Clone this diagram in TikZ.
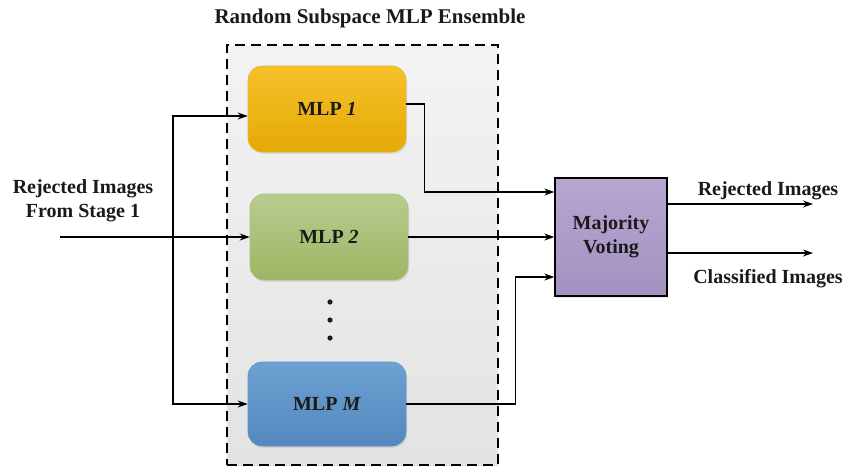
\documentclass[tikz,border=0pt]{standalone}
\usepackage{fontspec}
\setmainfont{Liberation Serif}
\usetikzlibrary{arrows.meta,shadows}
\definecolor{ylwT}{HTML}{F6C12A}
\definecolor{ylwB}{HTML}{E4AA05}
\definecolor{ylwD}{HTML}{E6B43A}
\definecolor{grnT}{HTML}{B8CC8E}
\definecolor{grnB}{HTML}{9DB665}
\definecolor{grnD}{HTML}{A9BF7C}
\definecolor{bluT}{HTML}{6DA1D2}
\definecolor{bluB}{HTML}{5487BD}
\definecolor{bluD}{HTML}{6394C6}
\definecolor{purT}{HTML}{B6A6D0}
\definecolor{purB}{HTML}{A491C2}
\definecolor{bgT}{HTML}{F3F3F3}
\definecolor{bgB}{HTML}{E3E3E3}
\definecolor{txt}{HTML}{1A1A1A}
\tikzset{
  lbl/.style={font=\fontsize{20}{23}\selectfont\bfseries, text=txt, align=center, inner sep=0pt},
  mlpbox/.style={rounded corners=14pt, minimum width=158pt, minimum height=86pt, line width=0.6pt,
     drop shadow={opacity=0.18, shadow xshift=1.2pt, shadow yshift=-1.8pt},
     font=\fontsize{20}{23}\selectfont\bfseries, text=txt},
  arr/.style={line width=1.3pt, -{Stealth[length=10pt,width=7pt]}},
  ln/.style={line width=1.3pt},
}
\begin{document}
\begin{tikzpicture}[x=1pt,y=-1pt]
\useasboundingbox (0,0) rectangle (858,467);
% ensemble frame
\node (ens) [draw=black, dashed, dash pattern=on 10pt off 6pt, line width=1.3pt,
  top color=bgT, bottom color=bgB, minimum width=271pt, minimum height=420pt, inner sep=0pt]
  at (362.5,255) {};
\node (title) [lbl, font=\fontsize{21}{24}\selectfont\bfseries] at (370,18) {Random Subspace MLP Ensemble};
% MLP boxes
\node (mlp1) [mlpbox, draw=ylwD, top color=ylwT, bottom color=ylwB] at (327,109) {MLP \textit{1}};
\node (mlp2) [mlpbox, draw=grnD, top color=grnT, bottom color=grnB] at (329,237) {MLP \textit{2}};
\node (mlpM) [mlpbox, draw=bluD, top color=bluT, bottom color=bluB, minimum height=84pt] at (327,404) {MLP \textit{M}};
% dots
\fill[txt] (330,302) circle (2.6pt) (330,320) circle (2.6pt) (330,338) circle (2.6pt);
% majority voting
\node (mv) [draw=black, line width=1.3pt, top color=purT, bottom color=purB,
  minimum width=112pt, minimum height=118pt, inner sep=0pt,
  drop shadow={opacity=0.15, shadow xshift=1.2pt, shadow yshift=-1.8pt},
  lbl] at (611,237) {Majority\\[1pt]Voting};
% left input
\node (inlbl) [lbl] at (83,201) {Rejected Images\\[1pt]From Stage 1};
\coordinate (in) at (60,237);
\coordinate (br) at (173,237);
\draw[ln] (in) -- (br);
\draw[arr] (br) -- (mlp2.west);
\draw[arr] (br) |- ([yshift=-7pt]mlp1.west);
\draw[arr] (br) |- (mlpM.west);
% outputs of MLPs
\draw[arr] ([yshift=5pt]mlp1.east) -- ++(18pt,0) |- ([yshift=45pt]mv.west);
\draw[arr] (mlp2.east) -- (mlp2.east -| mv.west);
\draw[arr] (mlpM.east) -- ++(109pt,0) |- ([yshift=-40pt]mv.west);
% outputs
\coordinate (o1) at (813,204);
\coordinate (o2) at (813,253);
\draw[arr] ([yshift=33pt]mv.east) -- (o1);
\draw[arr] ([yshift=-16pt]mv.east) -- (o2);
\node (rej) [lbl] at (768,191) {Rejected Images};
\node (cls) [lbl] at (768,279) {Classified Images};
\end{tikzpicture}
\end{document}
